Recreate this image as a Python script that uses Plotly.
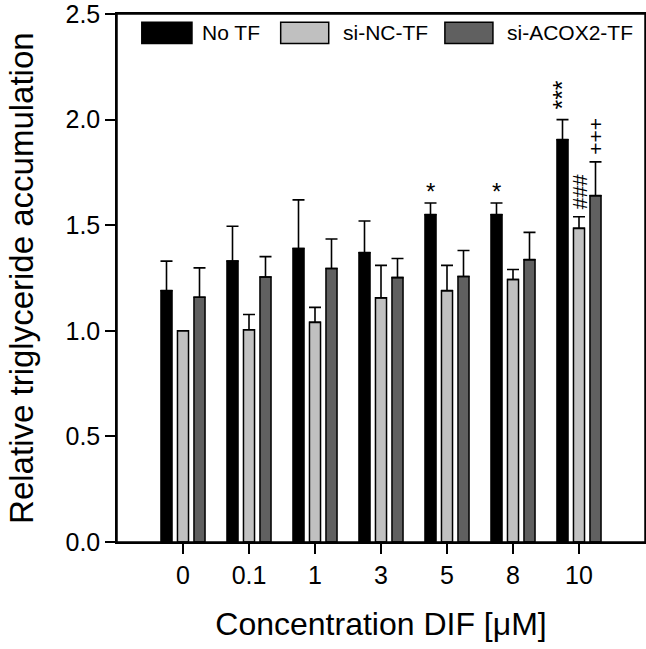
import plotly.graph_objects as go

# ---- data ----
categories = ["0", "0.1", "1", "3", "5", "8", "10"]

no_tf = [1.19, 1.33, 1.39, 1.37, 1.55, 1.55, 1.905]
no_tf_err = [0.14, 0.165, 0.23, 0.15, 0.055, 0.055, 0.095]

si_nc_tf = [1.00, 1.005, 1.04, 1.156, 1.19, 1.243, 1.485]
si_nc_tf_err = [0.0, 0.072, 0.071, 0.154, 0.12, 0.047, 0.055]

si_acox2_tf = [1.159, 1.255, 1.295, 1.252, 1.257, 1.337, 1.64]
si_acox2_tf_err = [0.139, 0.096, 0.14, 0.09, 0.123, 0.129, 0.16]

no_tf_sig = ["", "", "", "", "*", "*", "***"]
si_nc_tf_sig = ["", "", "", "", "", "", "###"]
si_acox2_tf_sig = ["", "", "", "", "", "", "+++"]

series_names = ["No TF", "si-NC-TF", "si-ACOX2-TF"]
y_ticks = [0.0, 0.5, 1.0, 1.5, 2.0, 2.5]
y_tick_labels = ["0.0", "0.5", "1.0", "1.5", "2.0", "2.5"]
x_title = "Concentration DIF [μM]"
y_title = "Relative triglyceride accumulation"

# ---- styling ----
colors = ["#000000", "#C0C0C0", "#606060"]
FONT = "Liberation Sans, Arial, sans-serif"

x_pos = list(range(len(categories)))
series = [
    (no_tf, no_tf_err, no_tf_sig),
    (si_nc_tf, si_nc_tf_err, si_nc_tf_sig),
    (si_acox2_tf, si_acox2_tf_err, si_acox2_tf_sig),
]

fig = go.Figure()
for name, (vals, errs, _), col in zip(series_names, series, colors):
    fig.add_trace(go.Bar(
        name=name, x=x_pos, y=vals,
        marker=dict(color=col, line=dict(color="black", width=1.5)),
        error_y=dict(type="data", symmetric=False, array=errs,
                     arrayminus=[0] * len(errs), color="black",
                     thickness=1.6, width=6),
        showlegend=False,
    ))

# significance marks
offsets = [-0.25, 0.0, 0.25]
for (vals, errs, sigs), off in zip(series, offsets):
    for i, (v, e, s) in enumerate(zip(vals, errs, sigs)):
        if not s:
            continue
        top = v + e
        if len(s) == 1:
            fig.add_annotation(x=i + off, y=top, text=s, showarrow=False,
                               xanchor="center", yanchor="bottom", yshift=-4,
                               font=dict(family=FONT, size=24, color="black"))
        else:
            fig.add_annotation(x=i + off, y=top, text=s, showarrow=False,
                               textangle=-90, xanchor="center", yanchor="bottom",
                               yshift=8 if s[0] == "*" else 5,
                               font=dict(family=FONT, size=21 if s[0] != "*" else 25,
                                         color="black"))

# custom legend (wide swatches like the reference)
legend_items = [(0.047, 0.142, 0.157), (0.310, 0.401, 0.424), (0.621, 0.712, 0.735)]
for name, col, (x0, x1, xt) in zip(series_names, colors, legend_items):
    fig.add_shape(type="rect", xref="paper", yref="paper", x0=x0, x1=x1,
                  y0=0.9441, y1=0.9845, fillcolor=col,
                  line=dict(color="black", width=1.5))
    fig.add_annotation(xref="paper", yref="paper", x=xt, y=0.9643, text=name,
                       showarrow=False, xanchor="left", yanchor="middle",
                       font=dict(family=FONT, size=21, color="black"))

# frame around the plot area
fig.add_shape(type="rect", xref="paper", yref="paper", x0=0, x1=1, y0=0, y1=1,
              line=dict(color="black", width=1.5), fillcolor="rgba(0,0,0,0)",
              layer="above")

# y-axis title
fig.add_annotation(xref="paper", yref="paper", x=-0.182, y=0.5, text=y_title,
                   textangle=-90, showarrow=False, xanchor="center", yanchor="middle",
                   font=dict(family=FONT, size=33, color="black"))

fig.update_layout(
    width=646, height=649,
    margin=dict(l=117, r=1, t=14, b=107, autoexpand=False),
    paper_bgcolor="white", plot_bgcolor="white",
    barmode="group", bargap=0.25, bargroupgap=0.33,
    font=dict(family=FONT, color="black"),
    showlegend=False,
)
fig.update_xaxes(
    range=[-1, 7], tickvals=x_pos, ticktext=categories,
    ticks="outside", ticklen=10, tickwidth=1.5, tickcolor="black",
    showline=True, linecolor="black", linewidth=1.5, mirror=True,
    showgrid=False, zeroline=False, automargin=False,
    ticklabeloverflow="allow",
    tickfont=dict(family=FONT, size=25, color="black"),
    title=dict(text=x_title, standoff=25,
               font=dict(family=FONT, size=32, color="black")),
)
fig.update_yaxes(
    range=[0, 2.5], tickvals=y_ticks, ticktext=y_tick_labels,
    ticks="outside", ticklen=10, tickwidth=1.5, tickcolor="black",
    showline=True, linecolor="black", linewidth=1.5, mirror=True,
    showgrid=False, zeroline=False, automargin=False,
    ticklabeloverflow="allow",
    tickfont=dict(family=FONT, size=25, color="black"),
)

# remove the page's default body margin so the figure sits at the window's corner
fig.write_html(
    "out.html",
    config={"displayModeBar": False},
    post_script="document.body.style.margin='0';"
                "document.documentElement.style.overflow='hidden';",
)
